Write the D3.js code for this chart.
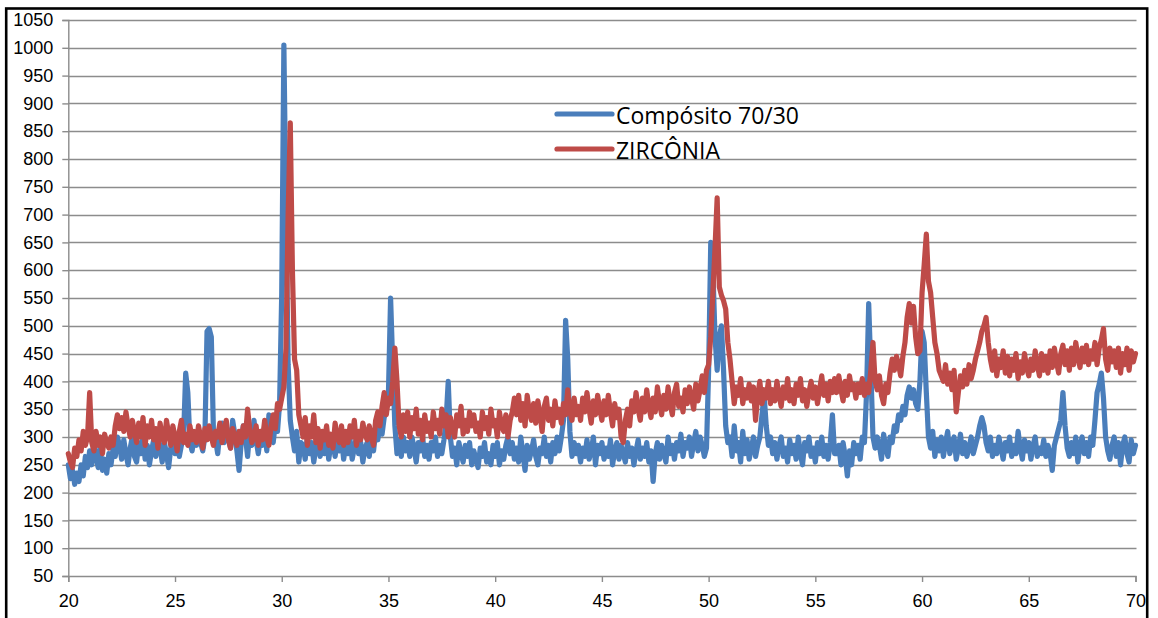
<!DOCTYPE html>
<html>
<head>
<meta charset="utf-8">
<script src="https://cdn.jsdelivr.net/npm/d3@7"></script>
<style>
  html, body { margin: 0; padding: 0; background: #fff; }
  svg { display: block; }
</style>
</head>
<body>
<svg id="chart" width="1158" height="618"></svg>
<script>
// Diffractogram: 2θ from 20° to 70°, sampled every 0.1°
const angleStart = 20;
const angleStep = 0.1;

const seriesNames = ["Compósito 70/30", "ZIRCÔNIA"];

// Intensities, one row per degree (d.0 … d.9)
const compositeCounts = [
  250,225,240,215,235,220,250,230,265,245, // 20
  275,250,290,265,245,280,240,260,235,270, // 21
  250,280,265,300,285,260,295,270,250,280, // 22
  300,265,255,290,270,300,260,285,250,275, // 23
  295,265,300,280,255,290,270,245,280,300, // 24
  270,290,265,285,300,415,380,290,275,300, // 25
  285,310,290,275,300,490,495,480,310,295, // 26
  270,310,325,290,320,300,280,330,305,275, // 27
  240,290,320,300,265,310,285,330,295,270, // 28
  300,285,320,275,340,300,290,325,310,360, // 29
  560,1005,700,430,330,300,275,310,255,290, // 30
  285,260,300,270,290,255,280,300,265,290, // 31
  270,300,260,285,295,265,290,275,300,260, // 32
  285,270,295,260,280,300,270,290,255,280, // 33
  290,265,300,275,310,295,320,305,335,350, // 34
  380,550,430,320,270,295,265,300,275,290, // 35
  265,300,280,255,290,275,300,265,285,260, // 36
  290,275,300,265,285,270,295,330,400,300, // 37
  265,280,250,290,270,255,285,265,290,250, // 38
  275,260,245,280,265,290,255,270,250,285, // 39
  265,290,250,275,260,285,300,270,290,260, // 40
  280,255,300,270,240,285,260,275,295,265, // 41
  250,280,270,300,265,285,255,290,270,300, // 42
  275,300,330,510,440,310,265,290,270,285, // 43
  255,280,265,295,260,275,300,250,285,270, // 44
  290,260,280,265,295,250,275,290,260,285, // 45
  270,255,290,265,280,250,275,295,260,280, // 46
  265,290,255,275,220,270,290,260,285,270, // 47
  255,300,270,285,260,290,275,305,265,290, // 48
  280,300,265,290,310,275,300,285,265,280, // 49
  420,650,600,480,420,480,500,420,320,290, // 50
  300,265,320,275,290,255,310,270,295,260, // 51
  280,300,265,285,300,340,375,320,285,300, // 52
  270,290,260,285,300,265,280,255,295,270, // 53
  285,260,300,270,250,290,275,300,265,280, // 54
  255,290,270,300,265,285,260,290,340,270, // 55
  270,285,250,290,265,230,275,250,290,270, // 56
  285,260,300,290,380,540,420,300,280,300, // 57
  285,260,305,280,265,300,290,320,310,340, // 58
  330,355,340,375,390,370,385,360,350,400, // 59
  490,470,380,300,280,310,265,295,275,300, // 60
  265,290,310,270,285,300,260,280,305,270, // 61
  290,265,280,300,270,285,300,320,335,320, // 62
  290,275,300,265,285,270,300,280,260,290, // 63
  275,300,265,285,270,310,280,260,295,275, // 64
  290,260,285,300,265,280,270,295,265,285, // 65
  270,240,285,300,315,330,380,320,280,265, // 66
  290,270,300,255,285,300,270,290,265,300, // 67
  285,330,380,395,415,370,300,275,260,285, // 68
  300,265,290,250,285,300,270,255,295,270, // 69
  285                                      // 70
];

const zirconiaCounts = [
  270,255,245,280,265,295,275,310,285,300, // 20
  380,290,275,310,285,300,270,305,290,280, // 21
  300,285,320,340,315,335,310,345,320,300, // 22
  330,310,290,325,300,335,285,320,300,330, // 23
  295,315,280,325,300,290,330,305,285,320, // 24
  300,275,310,330,290,305,285,320,295,310, // 25
  290,320,300,280,315,295,320,300,285,310, // 26
  300,325,290,310,330,295,280,315,300,285, // 27
  310,290,320,300,350,315,290,300,320,285, // 28
  310,295,330,300,285,320,340,315,360,350, // 29
  370,390,460,700,865,600,440,420,340,320, // 30
  300,335,285,320,300,340,290,315,280,310, // 31
  295,320,285,305,280,325,300,290,320,285, // 32
  310,290,320,300,330,285,310,295,325,305, // 33
  295,320,300,285,330,345,320,355,380,340, // 34
  370,360,400,460,400,320,300,340,310,345, // 35
  300,335,315,350,305,330,295,340,310,325, // 36
  300,345,315,330,305,350,320,340,300,335, // 37
  315,300,340,320,355,305,330,310,345,320, // 38
  340,310,325,300,345,315,335,305,350,320, // 39
  330,300,345,320,310,340,300,330,345,370, // 40
  340,375,330,360,320,375,345,330,360,325, // 41
  365,340,310,355,370,330,350,320,365,335, // 42
  350,325,360,340,385,345,330,370,340,355, // 43
  330,370,345,380,350,325,365,340,375,350, // 44
  330,365,340,375,345,320,360,335,350,300, // 45
  290,330,350,320,365,345,380,350,330,370, // 46
  345,385,355,335,370,345,390,360,340,375, // 47
  350,390,360,340,380,395,355,370,345,385, // 48
  360,390,370,350,395,365,385,410,380,420, // 49
  430,480,560,640,730,570,555,545,530,470, // 50
  440,400,360,390,375,405,360,385,370,395, // 51
  365,390,330,375,400,360,385,370,400,360, // 52
  385,365,400,375,355,390,370,405,365,385, // 53
  360,395,375,405,365,385,355,380,400,370, // 54
  390,360,385,410,375,395,365,400,380,405, // 55
  380,410,385,365,400,375,410,385,395,370, // 56
  395,380,405,375,395,380,420,470,400,385, // 57
  410,375,360,395,380,415,440,420,445,430, // 58
  410,445,470,515,540,505,535,480,450,455, // 59
  560,610,665,580,560,515,470,450,420,410, // 60
  400,430,395,415,385,420,345,380,410,390, // 61
  420,395,430,405,420,440,455,470,490,500, // 62
  515,470,440,420,455,410,440,425,455,415, // 63
  445,410,440,420,450,405,435,415,450,425, // 64
  410,440,420,455,430,410,450,420,445,415, // 65
  455,425,460,435,415,450,465,430,455,420, // 66
  460,430,470,445,425,460,435,465,430,455, // 67
  440,470,430,460,475,495,440,420,460,435, // 68
  455,425,460,415,450,430,460,420,455,435, // 69
  450                                      // 70
];

const xTicks = [20, 25, 30, 35, 40, 45, 50, 55, 60, 65, 70];
const yTicks = d3.range(50, 1051, 50);

const seriesColors = ["#4a7ebb", "#be4b48"];

const svg = d3.select("#chart");

const x = d3.scaleLinear().domain([20, 70]).range([68.3, 1135.5]);
const y = d3.scaleLinear().domain([50, 1050]).range([576, 20]);

const gridColor = "#8c8c8c";

// outer frame
svg.append("rect")
  .attr("x", 6.2).attr("y", 8.5)
  .attr("width", 1141).attr("height", 700)
  .attr("fill", "none").attr("stroke", "#000").attr("stroke-width", 2.6);

// horizontal gridlines
svg.append("g")
  .selectAll("line")
  .data(yTicks.filter(v => v !== 50))
  .join("line")
  .attr("x1", x(20)).attr("x2", x(70) + 1)
  .attr("y1", d => Math.round(y(d)) + 0.5)
  .attr("y2", d => Math.round(y(d)) + 0.5)
  .attr("stroke", gridColor).attr("stroke-width", 1.4);

// y axis
const yAxis = d3.axisLeft(y).tickValues(yTicks).tickSize(6).tickPadding(9)
  .tickFormat(d3.format("d"));
const gy = svg.append("g").attr("transform", `translate(${x(20)},0)`).call(yAxis);
gy.select(".domain").attr("stroke", gridColor).attr("stroke-width", 1.4);
gy.selectAll(".tick line").attr("stroke", gridColor).attr("stroke-width", 1.4);
gy.selectAll(".tick text")
  .attr("font-family", "'Liberation Sans', Arial, sans-serif")
  .attr("font-size", 18).attr("fill", "#000");

// x axis
const xAxis = d3.axisBottom(x).tickValues(xTicks).tickSize(6).tickPadding(12)
  .tickFormat(d3.format("d"));
const gx = svg.append("g").attr("transform", `translate(0,${y(50)})`).call(xAxis);
gx.select(".domain").attr("stroke", gridColor).attr("stroke-width", 1.4);
gx.selectAll(".tick line").attr("stroke", gridColor).attr("stroke-width", 1.4);
gx.selectAll(".tick text")
  .attr("font-family", "'Liberation Sans', Arial, sans-serif")
  .attr("font-size", 18).attr("fill", "#000");

// series lines
const toPoints = arr => arr.map((v, i) => [angleStart + i * angleStep, v]);
const line = d3.line().x(d => x(d[0])).y(d => y(d[1])).curve(d3.curveLinear);

[compositeCounts, zirconiaCounts].forEach((arr, k) => {
  svg.append("path")
    .datum(toPoints(arr))
    .attr("d", line)
    .attr("fill", "none")
    .attr("stroke", seriesColors[k])
    .attr("stroke-width", 5.2)
    .attr("stroke-linejoin", "round")
    .attr("stroke-linecap", "round");
});

// legend
const legendWidths = [183, 104];
const legend = svg.append("g");
seriesNames.forEach((name, k) => {
  const ly = 114 + k * 35;
  legend.append("line")
    .attr("x1", 557).attr("x2", 612)
    .attr("y1", ly).attr("y2", ly)
    .attr("stroke", seriesColors[k]).attr("stroke-width", 5.2)
    .attr("stroke-linecap", "round");
  legend.append("text")
    .attr("x", 616).attr("y", ly + 9.5)
    .attr("font-family", "'Open Sans', 'Noto Sans', sans-serif")
    .attr("font-size", 23)
    .attr("textLength", legendWidths[k])
    .attr("lengthAdjust", "spacingAndGlyphs")
    .attr("fill", "#000")
    .text(name);
});
</script>
</body>
</html>
